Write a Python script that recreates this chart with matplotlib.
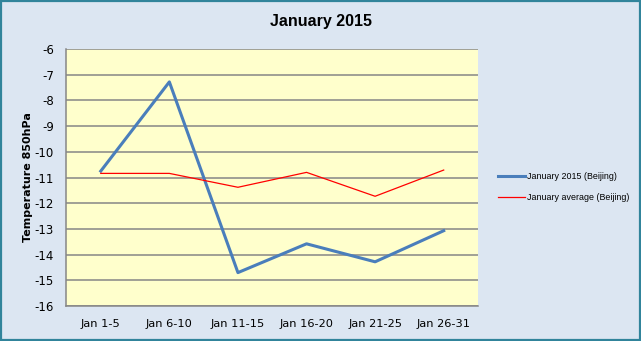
import matplotlib.pyplot as plt
from matplotlib.patches import Rectangle

periods = ["Jan 1-5", "Jan 6-10", "Jan 11-15", "Jan 16-20", "Jan 21-25", "Jan 26-31"]
temp_2015 = [-10.75, -7.28, -14.70, -13.58, -14.28, -13.07]
temp_avg = [-10.84, -10.84, -11.38, -10.80, -11.73, -10.71]
yticks = list(range(-16, -5))

plt.rcParams['font.family'] = 'DejaVu Sans'
plt.rcParams['axes.unicode_minus'] = False

fig = plt.figure(figsize=(6.41, 3.41), dpi=100)
fig.patch.set_facecolor('#dce6f2')
fig.patches.append(Rectangle((0.001, 0.003), 0.997, 0.994, transform=fig.transFigure,
                             fill=False, edgecolor='#31849b', linewidth=1.6))

ax = fig.add_axes([0.1037, 0.1026, 0.642, 0.7537])
ax.set_facecolor('#ffffcc')

x = range(len(periods))
ax.plot(x, temp_2015, color='#4a7ebb', linewidth=2.2, label='January 2015 (Beijing)')
ax.plot(x, temp_avg, color='#ff0000', linewidth=0.9, label='January average (Beijing)')

ax.set_xlim(-0.5, len(periods) - 0.5)
ax.set_ylim(-16, -6)
ax.set_yticks(yticks)
ax.set_xticks(list(x))
ax.set_xticklabels(periods)
ax.tick_params(axis='y', length=0, labelsize=8.5, colors='black', pad=9)
ax.tick_params(axis='x', length=0, labelsize=8.2, colors='black', pad=9)
ax.yaxis.grid(True, color='#868686', linewidth=1.1)
ax.set_axisbelow(True)
for side in ['top', 'right']:
    ax.spines[side].set_visible(False)
for side in ['left', 'bottom']:
    ax.spines[side].set_color('#868686')
    ax.spines[side].set_linewidth(1.1)

ax.set_ylabel('Temperature 850hPa', fontsize=8, fontweight='bold', labelpad=1)
fig.text(0.5, 0.937, 'January 2015', ha='center', va='center', fontsize=11.5,
         fontweight='bold', family='Liberation Sans')

ax.legend(loc='upper left', bbox_to_anchor=(1.04, 0.535), frameon=False,
          prop={'family': 'Liberation Sans', 'size': 6.4},
          handlelength=3.0, labelspacing=1.3, handletextpad=0.3, borderaxespad=0)

fig.savefig('out.png', dpi=100, facecolor=fig.get_facecolor())
